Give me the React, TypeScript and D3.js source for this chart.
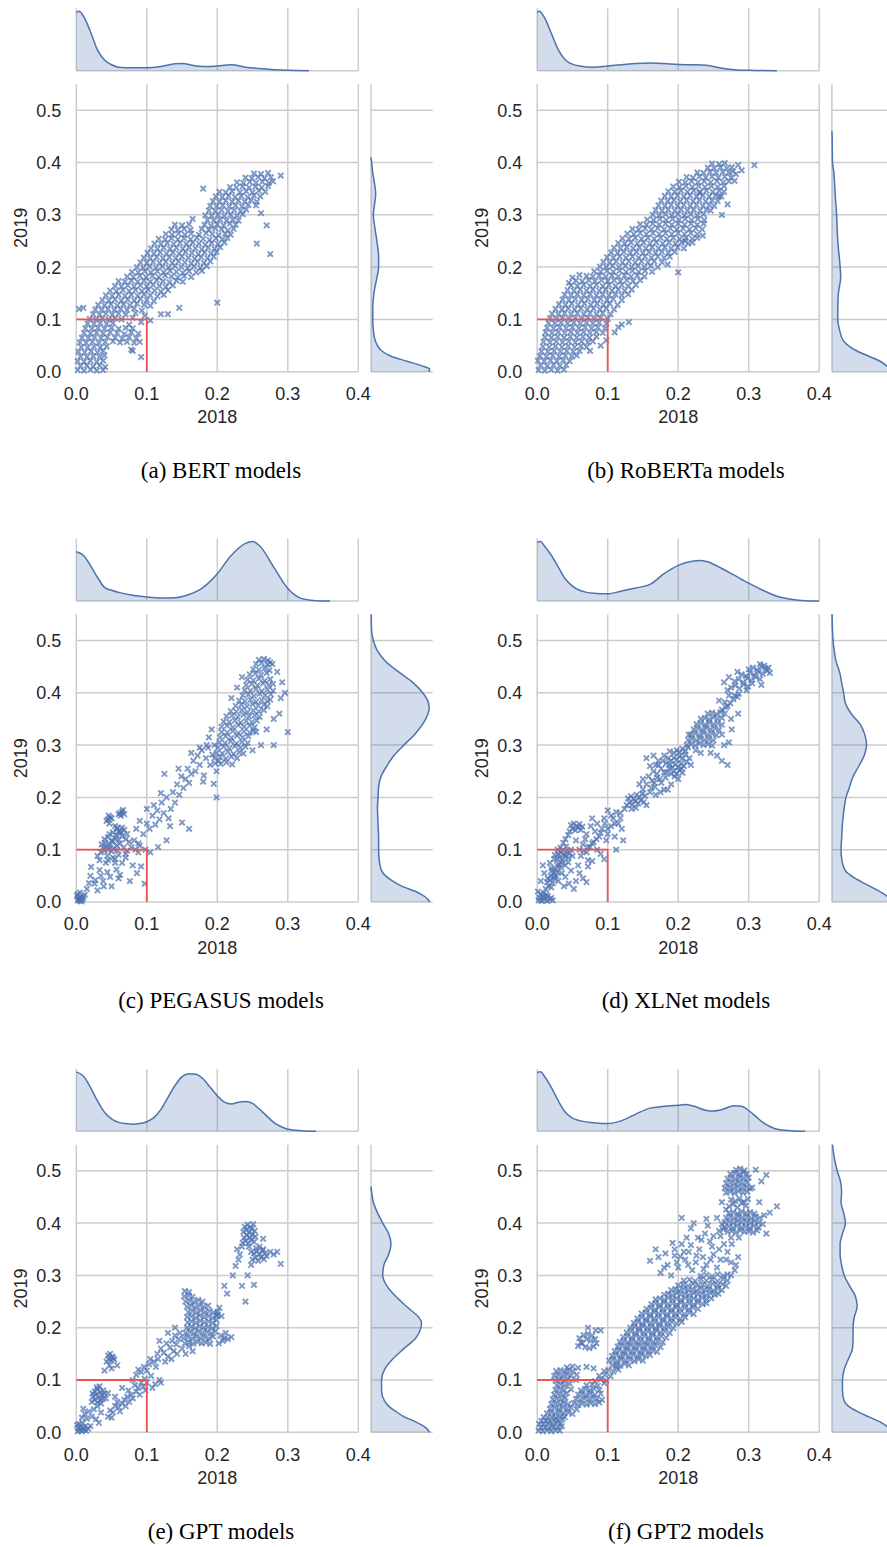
import React from 'react';
import * as d3 from 'd3';

// ---------- shared axis settings ----------
const xTicks = [0, 0.1, 0.2, 0.3, 0.4];
const yTicks = [0, 0.1, 0.2, 0.3, 0.4, 0.5];
const xLabel = '2018';
const yLabel = '2019';
const captions = [
  '(a) BERT models',
  '(b) RoBERTa models',
  '(c) PEGASUS models',
  '(d) XLNet models',
  '(e) GPT models',
  '(f) GPT2 models',
];

// ---------- scatter data: (2018, 2019) pairs, in thousandths ----------
const bertPoints = [
  2,3, 11,2, 20,4, 29,2, 38,3,
  6,11, 15,12, 24,10, 33,12, 41,9,
  2,20, 11,19, 20,21, 29,19, 38,21,
  6,29, 15,28, 24,30, 33,28, 40,31,
  3,38, 12,37, 21,39, 30,37, 38,40,
  7,47, 16,46, 25,48, 34,46, 43,48,
  5,56, 14,55, 23,57, 32,55, 41,57, 52,58, 62,56, 72,57, 82,55, 90,57,
  8,65, 17,64, 26,66, 35,64, 44,66, 55,65, 65,63, 75,66, 85,64,
  11,74, 20,73, 29,75, 38,73, 48,75, 58,74, 68,72, 78,75, 88,73,
  13,83, 22,82, 31,84, 40,82, 50,84, 60,82, 70,84, 80,83,
  16,92, 25,91, 34,93, 43,91, 52,93, 75,90, 92,95,
  19,101, 28,100, 37,102, 46,100, 55,102, 64,100, 80,103,
  24,110, 33,109, 42,111, 51,109, 60,111, 70,109, 84,112, 97,107,
  27,119, 36,118, 45,120, 54,118, 63,120, 72,118, 82,121, 93,117,
  31,128, 40,127, 49,129, 58,127, 67,129, 76,127, 86,130, 96,128, 105,126,
  37,137, 46,136, 55,138, 64,136, 73,138, 82,136, 91,139, 100,137, 110,135,
  42,146, 51,145, 60,147, 69,145, 78,147, 87,145, 96,148, 105,146, 115,144, 124,147,
  48,155, 57,154, 66,156, 75,154, 84,156, 93,154, 102,157, 111,155, 120,153, 130,156,
  55,164, 64,163, 73,165, 82,163, 91,165, 100,163, 109,166, 118,164, 127,162, 137,165,
  60,173, 69,172, 78,174, 87,172, 96,174, 105,172, 114,175, 123,173, 132,171, 142,174, 151,172,
  72,182, 81,181, 90,183, 99,181, 108,183, 117,181, 126,184, 135,182, 144,180, 153,183, 163,181,
  79,191, 88,190, 97,192, 106,190, 115,192, 124,190, 133,193, 142,191, 151,189, 160,192, 170,190, 178,193,
  86,200, 95,199, 104,201, 113,199, 122,201, 131,199, 140,202, 149,200, 158,198, 167,201, 176,199, 185,202,
  91,209, 100,208, 109,210, 118,208, 127,210, 136,208, 145,211, 154,209, 163,207, 172,210, 181,208, 190,211,
  96,218, 105,217, 114,219, 123,217, 132,219, 141,217, 150,220, 159,218, 168,216, 177,219, 186,217, 195,220,
  101,227, 110,226, 119,228, 128,226, 137,228, 146,226, 155,229, 164,227, 173,225, 182,228, 191,226, 199,229,
  106,236, 115,235, 124,237, 133,235, 142,237, 151,235, 160,238, 169,236, 178,234, 187,237, 196,235, 204,238,
  111,245, 120,244, 129,246, 138,244, 147,246, 156,244, 165,247, 174,245, 183,243, 192,246, 201,244, 210,247,
  117,254, 126,253, 135,255, 144,253, 153,255, 162,253, 171,256, 180,254, 189,252, 198,255, 207,253, 214,256,
  127,263, 136,262, 145,264, 154,262, 163,264, 174,262, 184,265, 193,263, 202,261, 211,264, 219,262,
  135,272, 144,271, 153,273, 162,271, 178,273, 188,271, 197,274, 206,272, 215,270, 223,273,
  140,281, 150,280, 160,282, 182,281, 191,279, 200,282, 209,280, 218,283, 226,281,
  165,292, 186,290, 195,289, 204,291, 213,289, 222,291, 230,289,
  183,299, 192,298, 201,300, 210,298, 219,300, 228,298, 236,301,
  188,308, 197,307, 206,309, 215,307, 224,309, 233,307, 241,310,
  190,317, 199,316, 208,318, 217,316, 226,318, 235,316, 244,319,
  194,326, 203,325, 212,327, 221,325, 230,327, 239,325, 248,328, 256,325,
  198,335, 207,334, 216,336, 225,334, 234,336, 243,334, 252,337, 261,335,
  203,344, 212,343, 221,345, 232,343, 241,345, 250,343, 259,346, 268,344,
  218,353, 227,352, 236,354, 245,352, 254,354, 263,352, 272,355,
  228,362, 237,361, 246,363, 255,361, 264,363, 273,361, 279,364,
  240,371, 249,370, 258,372, 267,370, 276,372,
  252,379, 262,378, 272,380,
  290,375, 275,225, 256,245, 262,303, 270,280, 200,132, 146,122, 130,110, 4,120, 10,122,
  80,40, 78,42, 92,28, 180,350, 255,318, 105,98, 120,110,
];

const robertaPoints = [
  2,3, 11,2, 20,4, 29,2, 38,4,
  5,12, 14,11, 23,13, 32,11, 41,13,
  1,21, 10,20, 19,22, 28,20, 37,22, 46,20,
  4,30, 13,29, 22,31, 31,29, 40,31, 49,29, 56,31,
  6,39, 15,38, 24,40, 33,38, 42,40, 51,38, 60,40,
  8,48, 17,47, 26,49, 35,47, 44,49, 53,47, 62,49, 70,47,
  9,57, 18,56, 27,58, 36,56, 45,58, 54,56, 63,58, 72,56, 79,58,
  11,66, 20,65, 29,67, 38,65, 47,67, 56,65, 65,67, 74,65, 84,67,
  12,75, 21,74, 30,76, 39,74, 48,76, 57,74, 66,76, 75,74, 84,76, 93,74,
  14,84, 23,83, 32,85, 41,83, 50,85, 59,83, 68,85, 77,83, 86,85, 96,83,
  16,93, 25,92, 34,94, 43,92, 52,94, 61,92, 70,94, 79,92, 88,94, 98,92,
  18,102, 27,101, 36,103, 45,101, 54,103, 63,101, 72,103, 81,101, 90,103, 100,101,
  21,111, 30,110, 39,112, 48,110, 57,112, 66,110, 75,112, 84,110, 93,112, 104,110,
  26,120, 35,119, 44,121, 53,119, 62,121, 71,119, 80,121, 89,119, 98,121, 109,119,
  31,129, 40,128, 49,130, 58,128, 67,130, 76,128, 85,130, 94,128, 103,130, 114,128,
  36,138, 45,137, 54,139, 63,137, 72,139, 81,137, 90,139, 99,137, 108,139, 120,137,
  39,147, 48,146, 57,148, 66,146, 75,148, 84,146, 93,148, 102,146, 111,148, 120,146, 129,148,
  43,156, 52,155, 61,157, 70,155, 79,157, 88,155, 97,157, 106,155, 115,157, 124,155, 134,157,
  48,165, 57,164, 66,166, 75,164, 84,166, 93,164, 102,166, 111,164, 120,166, 129,164, 140,166,
  55,174, 64,173, 73,175, 82,173, 91,175, 100,173, 109,175, 118,173, 127,175, 136,173, 146,175,
  70,183, 79,182, 88,184, 97,182, 106,184, 115,182, 124,184, 133,182, 142,184, 152,182,
  81,192, 90,191, 99,193, 108,191, 117,193, 126,191, 135,193, 144,191, 153,193, 163,191,
  89,201, 98,200, 107,202, 116,200, 125,202, 134,200, 143,202, 152,200, 161,202, 171,200,
  94,210, 103,209, 112,211, 121,209, 130,211, 139,209, 148,211, 157,209, 166,211, 177,209,
  99,219, 108,218, 117,220, 126,218, 135,220, 144,218, 153,220, 162,218, 171,220, 180,218, 188,220,
  105,228, 114,227, 123,229, 132,227, 141,229, 150,227, 159,229, 168,227, 177,229, 186,227, 195,229,
  109,237, 118,236, 127,238, 136,236, 145,238, 154,236, 163,238, 172,236, 181,238, 190,236, 199,238, 208,236,
  115,246, 124,245, 133,247, 142,245, 151,247, 160,245, 169,247, 178,245, 187,247, 196,245, 205,247, 214,245, 220,247,
  121,255, 130,254, 139,256, 148,254, 157,256, 166,254, 175,256, 184,254, 193,256, 202,254, 211,256, 220,254, 227,256,
  128,264, 137,263, 146,265, 155,263, 164,265, 173,263, 182,265, 191,263, 200,265, 209,263, 218,265, 227,263,
  135,273, 144,272, 153,274, 162,272, 171,274, 180,272, 189,274, 198,272, 207,274, 216,272, 225,274, 234,272,
  146,282, 155,281, 164,283, 173,281, 182,283, 191,281, 200,283, 209,281, 218,283, 227,281, 236,283,
  156,291, 165,290, 174,292, 183,290, 192,292, 201,290, 210,292, 219,290, 228,292, 237,290,
  164,300, 173,299, 182,301, 191,299, 200,301, 209,299, 218,301, 227,299, 236,301,
  168,309, 177,308, 186,310, 195,308, 204,310, 213,308, 222,310, 231,308, 240,310, 246,308,
  172,318, 181,317, 190,319, 199,317, 208,319, 217,317, 226,319, 235,317, 244,319, 251,317,
  176,327, 185,326, 194,328, 203,326, 212,328, 221,326, 230,328, 239,326, 248,328, 256,326,
  181,336, 190,335, 199,337, 208,335, 217,337, 226,335, 235,337, 244,335, 253,337, 261,335,
  186,345, 195,344, 204,346, 213,344, 222,346, 231,344, 240,346, 249,344, 258,346, 265,344,
  193,354, 202,353, 211,355, 220,353, 229,355, 238,353, 247,355, 256,353, 265,355,
  201,363, 210,362, 219,364, 228,362, 237,364, 246,362, 255,364, 264,362, 272,364,
  212,372, 221,371, 230,373, 239,371, 248,373, 257,371, 266,373, 275,371,
  227,381, 236,380, 245,382, 254,380, 263,382, 272,380, 278,383,
  242,390, 251,389, 260,391, 269,389, 276,391,
  248,398, 258,397, 266,399,
  308,395, 282,378, 270,320, 262,300, 200,190, 185,205, 50,180, 45,170, 60,185, 110,75,
  115,85, 120,90, 98,60, 90,50, 75,40, 130,95, 210,250, 235,260, 258,335, 280,365,
  290,385, 285,395, 230,342,
];

const pegasusPoints = [
  2,3, 5,2, 8,4, 3,7, 6,9, 9,6, 1,12, 4,5, 7,1, 2,15, 10,10, 12,14, 5,18,
  15,25, 21,67, 26,35, 27,42, 38,40, 39,30, 50,30, 33,61, 44,57, 57,62, 48,48, 62,52,
  20,50, 30,22, 18,36, 35,50, 60,45, 76,40, 65,75, 80,70, 86,55, 92,68, 97,35, 55,75,
  45,80, 70,85, 88,95, 98,100,
  35,95, 40,98, 45,100, 50,97, 38,103, 43,106, 48,104, 53,102, 58,99, 36,110, 41,113,
  47,110, 52,115, 57,108, 62,112, 67,104, 72,98, 78,105, 84,100, 90,108, 40,120, 45,124,
  50,118, 55,122, 60,119, 65,126, 70,120, 75,115, 82,118, 88,112, 47,130, 52,133, 57,128,
  62,136, 58,140, 63,132, 68,138, 72,130, 55,145, 60,135, 65,142, 44,88, 52,85, 60,90,
  70,92, 30,88, 33,80, 42,75, 55,82,
  45,158, 48,162, 46,165, 50,160, 43,155, 47,150, 62,170, 65,173, 60,168, 66,176, 63,165,
  68,168, 58,142,
  95,130, 100,150, 104,140, 108,165, 112,148, 115,175, 118,158, 121,190, 124,170, 128,200,
  131,160, 134,178, 137,210, 140,190, 143,225, 146,205, 149,240, 152,218, 155,235, 158,255,
  160,228, 163,245, 166,270, 169,250, 172,280, 175,262, 178,290, 181,242, 184,275, 187,295,
  190,262, 193,282, 196,300, 199,250, 202,270, 128,118, 116,105, 133,145, 110,185, 125,245,
  145,255, 163,285, 175,295, 180,230, 195,226, 199,200, 150,152, 160,140, 105,95, 100,178,
  90,155, 85,140, 120,208,
  197,265, 205,264, 213,267, 221,263,
  196,275, 204,277, 212,274, 220,278, 228,275,
  199,285, 207,284, 215,287, 223,283, 231,286, 237,284,
  201,295, 209,297, 217,294, 225,298, 233,295, 240,297,
  203,305, 211,304, 219,307, 227,303, 235,306, 243,304,
  204,315, 212,317, 220,314, 228,318, 236,315, 244,317,
  206,325, 214,324, 222,327, 230,323, 238,326, 246,324, 251,327,
  206,335, 214,337, 222,334, 230,338, 238,335, 246,337, 253,334,
  209,345, 217,344, 225,347, 233,343, 241,346, 249,344, 256,347,
  213,355, 221,357, 229,354, 237,358, 245,355, 253,357, 260,354,
  219,365, 227,364, 235,367, 243,363, 251,366, 259,364, 266,367,
  226,375, 234,377, 242,374, 250,378, 258,375, 266,377, 271,374,
  231,385, 239,384, 247,387, 255,383, 263,386, 271,384, 275,387,
  236,395, 244,397, 252,394, 260,398, 268,395, 276,397,
  239,405, 247,404, 255,407, 263,403, 271,406, 279,404,
  241,415, 249,417, 257,414, 265,418, 273,415, 279,417,
  243,425, 251,424, 259,427, 267,423, 275,426,
  246,435, 254,437, 262,434, 270,438,
  251,445, 259,444, 267,447, 274,443,
  255,455, 263,457, 271,454, 275,458,
  259,463, 266,465, 272,462,
  300,325, 290,390, 285,440, 296,400, 280,350, 270,330, 288,360, 262,300, 250,290, 280,300,
  255,325, 192,330, 188,315, 185,300, 220,390, 228,410, 235,430, 278,455, 292,420,
];

const xlnetPoints = [
  2,3, 6,2, 10,4, 14,2, 18,5, 3,8, 7,10, 11,9, 15,11, 20,8, 5,15, 9,17, 13,14, 22,3, 1,20,
  12,25, 16,30, 20,28, 14,38, 18,42, 22,36, 25,45, 19,50, 23,55, 27,50, 30,40, 26,62, 29,58,
  33,66, 31,72, 20,65, 35,55, 40,48, 38,30, 45,35, 52,25, 55,40, 48,60, 60,55, 65,45, 70,38,
  58,70, 72,68, 8,70, 10,55, 5,40,
  15,45, 24,48, 21,60, 28,70, 35,75, 40,70, 44,76, 24,82, 18,75,
  28,82, 32,85, 36,80, 40,88, 44,84, 30,92, 34,95, 38,90, 42,97, 46,93, 29,100, 33,104,
  37,99, 41,106, 25,90, 48,100, 50,88,
  46,135, 50,140, 54,137, 58,142, 62,138, 48,147, 52,150, 56,145, 60,149, 64,144, 44,128,
  40,120, 37,113,
  60,100, 65,110, 70,95, 75,105, 68,120, 80,115, 85,100, 90,92, 72,80, 78,78, 95,82, 88,125,
  82,135, 92,140, 98,118, 70,130, 100,130, 105,145, 110,125, 108,160, 115,150, 95,160,
  120,140, 118,170, 100,175, 85,150, 76,145, 78,160, 122,118, 112,100, 55,118,
  105,165, 112,172, 118,160, 124,178, 110,150, 100,140, 96,150, 90,132, 84,120, 78,112,
  72,105, 66,98, 62,88,
  127,185, 131,190, 135,186, 139,193, 143,188, 147,195, 151,191, 129,198, 133,202, 137,197,
  141,205, 145,200, 149,207, 153,203, 134,178, 140,180, 155,185,
  150,215, 155,225, 160,210, 158,240, 163,232, 167,220, 165,250, 170,245, 174,235, 172,262,
  176,255, 180,248, 178,270, 183,265, 187,255, 160,260, 150,235, 145,225, 168,205, 175,210,
  190,225, 195,240, 185,215, 200,235, 205,255, 155,275, 165,280, 188,288, 180,215,
  162,218, 166,228, 170,238, 176,228, 182,238, 184,248, 188,262, 168,262, 172,270, 180,280, 186,275,
  190,245, 194,250, 198,245, 202,252, 206,247, 192,258, 196,263, 200,258, 204,265, 208,260,
  212,268, 190,270, 194,276, 198,272, 202,279, 206,274, 210,282, 194,285, 198,290, 202,286,
  206,293, 210,288, 214,296, 216,275, 218,262,
  212,300, 218,302, 224,299, 230,303, 236,300, 242,302, 248,299,
  214,310, 220,312, 226,309, 232,313, 238,310, 244,312, 250,309,
  218,320, 224,322, 230,319, 236,323, 242,320, 248,322, 254,319,
  222,330, 228,332, 234,329, 240,333, 246,330, 252,332, 258,329,
  226,340, 232,342, 238,339, 244,343, 250,340, 256,342, 262,339,
  232,350, 238,352, 244,349, 250,353, 256,350, 262,352,
  242,360, 248,362, 254,359, 260,363, 266,360,
  270,375, 258,385, 275,350, 272,305, 232,285, 225,290, 265,300, 262,320, 246,285, 280,395,
  285,360, 276,330, 262,270, 255,280, 215,320, 270,262,
  262,368, 268,372, 274,380, 278,388, 266,382, 284,392, 272,395,
  275,410, 281,414, 287,408, 293,416, 299,412, 305,418, 280,422, 286,426, 292,420, 298,428,
  304,424, 310,430, 316,426, 290,435, 296,432, 302,438, 308,434, 314,440, 320,436, 326,442,
  300,445, 306,448, 312,444, 318,450, 324,446, 316,455, 322,452, 328,448, 270,405, 286,398,
  297,405, 265,420, 272,430, 284,440, 318,415, 330,438,
];

const gptPoints = [
  2,2, 5,4, 8,2, 11,5, 14,3, 3,8, 7,10, 10,8, 13,12, 1,14, 4,16, 17,7, 9,18, 20,12,
  8,28, 12,35, 15,26, 18,40, 22,30, 25,44, 10,45, 28,25, 32,18, 30,50, 35,38,
  22,58, 26,62, 30,57, 34,61, 38,64, 24,68, 28,72, 32,67, 36,71, 40,74, 26,78, 30,82,
  34,77, 38,80, 29,86, 33,88, 23,74, 35,55,
  45,30, 50,28, 48,42, 55,50, 52,38, 60,48, 58,58, 65,55, 62,40, 68,62, 72,68, 70,50,
  75,58, 78,72, 80,65, 85,78, 83,90, 88,85, 90,72, 92,95, 95,88, 98,80, 97,102, 100,95,
  42,65, 45,75, 55,68, 65,85, 74,80,
  43,135, 46,140, 49,137, 52,142, 45,147, 48,150, 51,145, 54,139, 47,128, 50,122, 58,128, 40,118,
  80,100, 85,110, 88,120, 92,115, 96,125, 100,118, 103,130, 106,108, 110,135, 113,125,
  116,140, 118,100, 120,95, 108,85, 112,92, 105,140,
  115,150, 120,160, 124,152, 128,170, 130,145, 133,162, 136,175, 138,155, 140,185, 142,168,
  145,178, 147,190, 126,135, 135,140, 118,175, 130,190, 143,150, 150,160, 155,150, 160,165,
  165,155, 140,200,
  154,170, 160,172, 166,169, 172,173, 178,170, 184,172, 190,169,
  152,180, 158,182, 164,179, 170,183, 176,180, 182,182, 188,179, 194,183,
  155,190, 161,192, 167,189, 173,193, 179,190, 185,192, 191,189, 197,193,
  157,200, 163,202, 169,199, 175,203, 181,200, 187,202, 193,199, 199,203,
  158,210, 164,212, 170,209, 176,213, 182,210, 188,212, 194,209,
  157,220, 163,222, 169,219, 175,223, 181,220, 187,222, 193,219, 199,223,
  159,230, 165,232, 171,229, 177,233, 183,230, 189,232, 195,229,
  157,240, 163,242, 169,239, 175,243, 181,240, 187,242,
  155,250, 161,252, 167,249, 173,253, 179,250,
  153,260, 159,262, 165,259,
  154,270, 160,268,
  200,230, 203,238, 201,225, 199,215, 206,222,
  205,185, 210,180, 212,190, 208,175, 215,178, 220,182, 202,170,
  222,300, 235,280, 240,250, 248,320, 226,318, 230,330, 243,300, 252,282, 214,265, 210,280,
  236,362, 240,366, 244,361, 248,368, 252,364, 238,372, 242,377, 246,372, 250,378, 254,374,
  237,383, 241,387, 245,382, 249,389, 253,385, 239,393, 243,397, 247,392, 251,398, 235,355, 245,355,
  250,330, 254,334, 258,328, 262,335, 266,331, 270,337, 252,342, 256,346, 260,340, 264,347,
  268,342, 255,352, 260,355, 265,350, 248,345,
  285,345, 290,322, 265,370, 275,345, 280,340, 232,340, 228,350,
];

const gpt2Points = [
  2,3, 8,2, 14,4, 20,2, 26,4, 32,3, 5,9, 11,10, 17,8, 23,11, 29,9, 35,12, 3,16, 9,15, 15,17,
  21,14, 27,18, 33,16, 6,22, 12,23, 18,21, 24,24, 30,22, 36,25, 9,29, 15,28, 21,30, 27,27,
  33,31, 39,29,
  14,36, 20,38, 26,35, 32,39, 38,36, 44,38, 50,35,
  18,45, 24,47, 30,44, 36,48, 42,45, 48,47, 56,44,
  20,54, 26,56, 32,53, 38,57, 44,54, 52,56, 58,52, 64,55, 70,53, 76,56, 82,54, 88,57,
  22,63, 28,65, 34,62, 40,66, 55,64, 61,62, 67,65, 73,63, 79,66, 85,64, 92,62,
  24,72, 30,74, 36,71, 42,75, 58,72, 64,74, 70,71, 76,75, 82,72, 90,74,
  26,81, 32,83, 38,80, 48,82, 62,80, 68,83, 74,80, 80,84, 88,81,
  28,90, 34,92, 40,89, 46,93, 70,90, 78,92, 86,89, 95,94,
  26,99, 32,101, 38,98, 44,102, 55,100, 82,98, 90,101, 98,99,
  24,108, 30,110, 36,107, 42,111, 48,108, 56,110, 88,108, 96,110, 104,107,
  27,117, 33,119, 39,116, 45,120, 51,117, 95,117, 101,119, 108,116, 115,120,
  42,124, 50,126, 58,123, 70,125, 80,122, 112,125,
  58,165, 62,172, 60,180, 66,186, 72,188, 78,185, 82,178, 84,170, 80,164, 74,161, 68,163,
  64,170, 70,178, 76,175, 83,195, 72,200, 90,195,
  106,128, 112,130, 118,127, 124,131, 130,128,
  102,137, 108,139, 114,136, 120,140, 126,137, 132,139, 138,136, 144,140, 150,137,
  106,146, 112,148, 118,145, 124,149, 130,146, 136,148, 142,145, 148,149, 154,146, 160,148,
  110,155, 116,157, 122,154, 128,158, 134,155, 140,157, 146,154, 152,158, 158,155, 164,157, 170,154,
  114,164, 120,166, 126,163, 132,167, 138,164, 144,166, 150,163, 156,167, 162,164, 168,166, 175,163,
  117,173, 123,175, 129,172, 135,176, 141,173, 147,175, 153,172, 159,176, 165,173, 171,175, 178,172,
  122,182, 128,184, 134,181, 140,185, 146,182, 152,184, 158,181, 164,185, 170,182, 176,184, 183,181,
  127,191, 133,193, 139,190, 145,194, 151,191, 157,193, 163,190, 169,194, 175,191, 181,193, 188,190,
  132,200, 138,202, 144,199, 150,203, 156,200, 162,202, 168,199, 174,203, 180,200, 186,202, 193,199,
  137,209, 143,211, 149,208, 155,212, 161,209, 167,211, 173,208, 179,212, 185,209, 191,211, 198,208, 205,211,
  142,218, 148,220, 154,217, 160,221, 166,218, 172,220, 178,217, 184,221, 190,218, 196,220, 203,217, 210,220,
  148,227, 154,229, 160,226, 166,230, 172,227, 178,229, 184,226, 190,230, 196,227, 202,229, 209,226, 216,229, 222,226,
  155,236, 161,238, 167,235, 173,239, 179,236, 185,238, 191,235, 197,239, 203,236, 209,238, 215,235, 221,239, 228,236,
  162,245, 168,247, 174,244, 180,248, 186,245, 192,247, 198,244, 204,248, 210,245, 216,247, 222,244, 228,248, 235,245, 240,247,
  168,254, 174,256, 180,253, 186,257, 192,254, 198,256, 204,253, 210,257, 216,254, 222,256, 228,253, 234,257, 240,254, 247,256,
  180,263, 186,265, 192,262, 198,266, 204,263, 210,265, 216,262, 222,266, 228,263, 234,265, 240,262, 246,266, 252,263, 257,265,
  190,272, 196,274, 202,271, 208,275, 214,272, 220,274, 226,271, 232,275, 238,272, 244,274, 250,271, 256,275, 262,272,
  200,281, 207,283, 214,280, 221,284, 228,281, 235,283, 242,280, 249,284, 256,281, 263,283, 268,280,
  208,290, 216,292, 224,289, 232,293, 240,290, 248,292, 256,289, 264,293, 270,290,
  232,299, 240,301, 248,298, 256,302, 264,299, 270,302,
  175,305, 185,320, 195,338, 200,315, 210,330, 215,345, 205,360, 220,310, 225,325, 230,350,
  235,335, 240,320, 245,365, 250,340, 255,315, 260,330, 265,360, 270,345, 275,325, 280,310,
  285,335, 250,375, 238,380, 228,372, 218,390, 242,395, 258,385, 262,398, 182,342, 192,362,
  172,335, 168,350, 160,328, 212,372, 205,410,
  190,300, 198,325, 208,345, 218,358, 226,338, 236,312, 246,330, 258,350, 268,330, 276,360,
  286,372, 248,355, 233,368, 222,400, 240,408, 255,410, 264,388, 214,320, 203,336, 195,350,
  180,315, 275,300, 282,320,
  270,383, 276,385, 282,382, 288,386, 294,383, 300,385, 306,382, 312,386,
  266,392, 272,394, 278,391, 284,395, 290,392, 296,394, 302,391, 308,395, 314,392,
  266,401, 272,403, 278,400, 284,404, 290,401, 296,403, 302,400, 308,404, 314,401,
  268,410, 274,412, 280,409, 286,413, 292,410, 298,412, 304,409, 310,413, 316,410,
  272,419, 278,421, 284,418, 290,422, 296,419, 302,421, 308,418,
  320,398, 322,415, 325,380, 260,375, 275,372,
  272,432, 278,436, 284,430, 290,438, 296,433, 275,445, 281,442, 287,447, 293,441, 299,446,
  262,440, 268,426,
  268,458, 274,460, 280,457, 286,461, 292,458, 298,460,
  266,467, 272,469, 278,466, 284,470, 290,467, 296,469, 302,466,
  268,476, 274,478, 280,475, 286,479, 292,476, 298,478,
  270,485, 276,487, 282,484, 288,488, 294,485, 300,487,
  274,494, 280,496, 286,493, 292,497, 297,494,
  282,502, 288,504, 294,501,
  340,432, 325,492, 310,502, 330,420, 318,480, 305,468, 315,440,
];

// ---------- marginal densities: [position, density relative to the peak] ----------
const bertTop = [[0,.98],[.004,1],[.01,.92],[.02,.66],[.03,.35],[.04,.18],[.05,.10],[.06,.06],[.08,.05],[.10,.05],[.12,.07],[.14,.115],[.15,.12],[.17,.08],[.19,.07],[.21,.09],[.22,.10],[.24,.06],[.26,.035],[.28,.017],[.30,.006],[.33,0]];
const bertRight = [[0,.98],[.005,1],[.01,.9],[.02,.61],[.03,.33],[.04,.18],[.05,.11],[.06,.07],[.08,.04],[.10,.03],[.12,.03],[.15,.05],[.18,.10],[.20,.13],[.22,.13],[.25,.10],[.28,.06],[.30,.04],[.32,.06],[.34,.08],[.36,.06],[.38,.03],[.40,.01],[.41,0]];

const robertaTop = [[0,.98],[.003,1],[.01,.9],[.02,.63],[.03,.35],[.04,.18],[.05,.11],[.06,.08],[.08,.06],[.10,.08],[.12,.10],[.14,.12],[.16,.13],[.18,.12],[.20,.105],[.22,.10],[.24,.09],[.26,.045],[.28,.017],[.30,.006],[.34,0]];
const robertaRight = [[0,1],[.01,.94],[.02,.82],[.03,.62],[.04,.42],[.05,.28],[.06,.19],[.08,.13],[.10,.10],[.12,.10],[.15,.11],[.18,.15],[.20,.14],[.25,.10],[.30,.08],[.35,.05],[.38,.035],[.40,.01],[.45,.004],[.46,0]];

const pegasusTop = [[0,.83],[.01,.77],[.02,.60],[.03,.40],[.04,.23],[.05,.18],[.06,.145],[.08,.095],[.10,.067],[.12,.05],[.14,.056],[.16,.11],[.18,.23],[.20,.46],[.22,.77],[.24,.97],[.25,1],[.26,.93],[.28,.57],[.30,.21],[.32,.04],[.34,.005],[.36,0]];
const pegasusRight = [[0,1],[.01,.92],[.02,.76],[.03,.53],[.04,.37],[.05,.25],[.06,.18],[.08,.14],[.10,.13],[.12,.13],[.15,.12],[.18,.11],[.20,.12],[.22,.13],[.24,.17],[.26,.27],[.28,.39],[.30,.56],[.32,.74],[.34,.88],[.36,.97],[.37,.99],[.38,.98],[.40,.88],[.42,.71],[.44,.47],[.46,.25],[.48,.11],[.50,.04],[.52,.01],[.55,.004]];

const xlnetTop = [[0,.99],[.005,1],[.01,.93],[.02,.77],[.03,.57],[.04,.37],[.05,.25],[.06,.18],[.07,.145],[.08,.13],[.10,.12],[.12,.17],[.14,.22],[.16,.28],[.18,.46],[.20,.60],[.22,.67],[.23,.68],[.24,.665],[.26,.56],[.28,.43],[.30,.30],[.32,.18],[.34,.08],[.36,.03],[.38,.005],[.40,0]];
const xlnetRight = [[0,1],[.01,.95],[.02,.82],[.03,.65],[.04,.48],[.05,.33],[.06,.23],[.08,.17],[.10,.155],[.12,.165],[.15,.18],[.18,.21],[.20,.24],[.22,.30],[.24,.36],[.26,.46],[.28,.55],[.30,.59],[.32,.56],[.34,.48],[.36,.33],[.38,.23],[.40,.20],[.42,.165],[.44,.13],[.46,.07],[.48,.04],[.50,.02],[.52,.01],[.55,.003]];

const gptTop = [[0,1],[.01,.93],[.02,.74],[.03,.51],[.04,.32],[.05,.21],[.06,.15],[.07,.13],[.08,.12],[.09,.13],[.10,.16],[.11,.23],[.12,.37],[.13,.57],[.14,.77],[.15,.92],[.16,.97],[.17,.96],[.18,.88],[.19,.74],[.20,.60],[.21,.49],[.22,.46],[.23,.49],[.24,.50],[.25,.47],[.26,.37],[.27,.26],[.28,.15],[.29,.08],[.30,.034],[.32,.01],[.34,0]];
const gptRight = [[0,1],[.01,.92],[.02,.76],[.03,.56],[.04,.42],[.05,.30],[.06,.23],[.08,.18],[.10,.18],[.12,.23],[.14,.37],[.16,.56],[.18,.76],[.20,.85],[.21,.86],[.22,.81],[.24,.61],[.26,.42],[.28,.27],[.30,.20],[.32,.22],[.34,.30],[.36,.34],[.38,.30],[.40,.20],[.42,.11],[.44,.04],[.46,.01],[.47,0]];

const gpt2Top = [[0,.99],[.005,1],[.01,.93],[.02,.74],[.03,.51],[.04,.32],[.05,.22],[.06,.18],[.08,.145],[.10,.13],[.12,.18],[.14,.29],[.16,.39],[.18,.42],[.20,.44],[.21,.45],[.22,.43],[.24,.35],[.25,.34],[.26,.36],[.28,.43],[.29,.42],[.30,.35],[.31,.25],[.32,.15],[.33,.08],[.34,.034],[.36,.01],[.38,0]];
const gpt2Right = [[0,1],[.01,.95],[.02,.82],[.03,.62],[.04,.43],[.05,.28],[.06,.21],[.08,.18],[.10,.18],[.12,.21],[.14,.28],[.16,.35],[.18,.36],[.20,.36],[.22,.38],[.24,.43],[.26,.40],[.28,.30],[.30,.21],[.32,.165],[.34,.14],[.36,.14],[.38,.18],[.40,.23],[.42,.20],[.44,.155],[.46,.165],[.48,.145],[.50,.09],[.52,.05],[.54,.02],[.55,.01]];

// ---------- layout ----------
const WIDTH = 887;
const HEIGHT = 1547;
const PLOT_LEFT = 76.3;
const COL_STEP = 460.9;
const PLOT_BOTTOM = 371.7;
const ROW_STEP = 530.3;
const PLOT_W = 282;
const PX_PER_Y = 523;
const MARG_TOP = 8.3;
const MARG_BOTTOM = 70.7;
const RIGHT_GAP = 294.7;
const RIGHT_W = 61.7;
const CAPTION_X = [221, 686];
const CAPTION_Y = 478;

const BLUE = '#4c72b0';
const GRID = '#cccccc';
const TEXT = '#262626';
const SANS = '"Liberation Sans", Arial, Helvetica, sans-serif';
const SERIF = '"Liberation Serif", "Times New Roman", Times, serif';

type Pair = [number, number];

function toPairs(flat: number[]): Pair[] {
  const out: Pair[] = [];
  for (let i = 0; i + 1 < flat.length; i += 2) out.push([flat[i] / 1000, flat[i + 1] / 1000]);
  return out;
}

const panels = [
  { caption: captions[0], points: bertPoints, top: bertTop, right: bertRight },
  { caption: captions[1], points: robertaPoints, top: robertaTop, right: robertaRight },
  { caption: captions[2], points: pegasusPoints, top: pegasusTop, right: pegasusRight },
  { caption: captions[3], points: xlnetPoints, top: xlnetTop, right: xlnetRight },
  { caption: captions[4], points: gptPoints, top: gptTop, right: gptRight },
  { caption: captions[5], points: gpt2Points, top: gpt2Top, right: gpt2Right },
];

function JointPanel({ index, caption, points, top, right }: {
  index: number; caption: string; points: number[]; top: number[][]; right: number[][];
}) {
  const col = index % 2;
  const row = Math.floor(index / 2);
  const left = PLOT_LEFT + col * COL_STEP;
  const bottom = PLOT_BOTTOM + row * ROW_STEP;

  const x = d3.scaleLinear().domain([0, 0.4]).range([left, left + PLOT_W]);
  const y = d3.scaleLinear().domain([0, 0.55]).range([bottom, bottom - 0.55 * PX_PER_Y]);
  const plotTop = y(0.55);

  const mTop = MARG_TOP + row * ROW_STEP;
  const mBottom = MARG_BOTTOM + row * ROW_STEP;
  const densTop = d3.scaleLinear().domain([0, 1.05]).range([mBottom, mTop]);
  const spineX = left + RIGHT_GAP;
  const densRight = d3.scaleLinear().domain([0, 1.05]).range([spineX, spineX + RIGHT_W]);

  const topData = top as Pair[];
  const rightData = right as Pair[];

  const topArea = d3.area<Pair>().x((d) => x(d[0])).y0(mBottom).y1((d) => densTop(d[1])).curve(d3.curveMonotoneX)(topData) || '';
  const topLine = d3.line<Pair>().x((d) => x(d[0])).y((d) => densTop(d[1])).curve(d3.curveMonotoneX)(topData) || '';
  const rightArea = d3.area<Pair>().y((d) => y(d[0])).x0(spineX).x1((d) => densRight(d[1])).curve(d3.curveMonotoneY)(rightData) || '';
  const rightLine = d3.line<Pair>().y((d) => y(d[0])).x((d) => densRight(d[1])).curve(d3.curveMonotoneY)(rightData) || '';

  const pts = toPairs(points);
  const s = 2.7;
  const fmt = d3.format('.1f');
  const gw = 1.5;

  return (
    <g>
      {/* top marginal axes */}
      {xTicks.map((t) => (
        <line key={`tg${t}`} x1={x(t)} x2={x(t)} y1={mTop} y2={mBottom} stroke={GRID} strokeWidth={gw} />
      ))}
      <line x1={x(0)} x2={x(0.4)} y1={mBottom} y2={mBottom} stroke={GRID} strokeWidth={gw} />
      <path d={topArea} fill={BLUE} fillOpacity={0.25} stroke="none" />
      <path d={topLine} fill="none" stroke={BLUE} strokeWidth={1.5} />

      {/* right marginal axes */}
      {yTicks.map((t) => (
        <line key={`rg${t}`} x1={spineX} x2={spineX + RIGHT_W} y1={y(t)} y2={y(t)} stroke={GRID} strokeWidth={gw} />
      ))}
      <line x1={spineX} x2={spineX} y1={plotTop} y2={bottom} stroke={GRID} strokeWidth={gw} />
      <path d={rightArea} fill={BLUE} fillOpacity={0.25} stroke="none" />
      <path d={rightLine} fill="none" stroke={BLUE} strokeWidth={1.5} />

      {/* joint axes grid */}
      {xTicks.map((t) => (
        <line key={`xg${t}`} x1={x(t)} x2={x(t)} y1={plotTop} y2={bottom} stroke={GRID} strokeWidth={gw} />
      ))}
      {yTicks.map((t) => (
        <line key={`yg${t}`} x1={x(0)} x2={x(0.4)} y1={y(t)} y2={y(t)} stroke={GRID} strokeWidth={gw} />
      ))}

      {/* scatter markers */}
      <g stroke={BLUE} strokeOpacity={0.72} strokeWidth={1.9} fill="none">
        {pts.map((p, i) => {
          const px = x(p[0]);
          const py = y(p[1]);
          return (
            <path key={i} d={`M${px - s},${py - s}L${px + s},${py + s}M${px - s},${py + s}L${px + s},${py - s}`} />
          );
        })}
      </g>

      {/* reference box at 0.1 */}
      <path
        d={`M${x(0)},${y(0.1)}L${x(0.1)},${y(0.1)}L${x(0.1)},${y(0)}`}
        fill="none"
        stroke="#f05252"
        strokeWidth={1.8}
      />

      {/* tick labels */}
      {xTicks.map((t) => (
        <text key={`xt${t}`} x={x(t)} y={bottom + 28.3} textAnchor="middle" fontFamily={SANS} fontSize={18} fill={TEXT}>
          {fmt(t)}
        </text>
      ))}
      {yTicks.map((t) => (
        <text key={`yt${t}`} x={left - 15} y={y(t)} dy="0.36em" textAnchor="end" fontFamily={SANS} fontSize={18} fill={TEXT}>
          {fmt(t)}
        </text>
      ))}
      <text x={x(0.2)} y={bottom + 51.6} textAnchor="middle" fontFamily={SANS} fontSize={18} fill={TEXT}>
        {xLabel}
      </text>
      <text
        transform={`translate(${left - 49.6},${(plotTop + bottom) / 2}) rotate(-90)`}
        textAnchor="middle"
        fontFamily={SANS}
        fontSize={18}
        fill={TEXT}
      >
        {yLabel}
      </text>

      {/* subfigure caption */}
      <text x={CAPTION_X[col]} y={CAPTION_Y + row * ROW_STEP} textAnchor="middle" fontFamily={SERIF} fontSize={23} fill="#000">
        {caption}
      </text>
    </g>
  );
}

export default function App() {
  return (
    <svg
      width={WIDTH}
      height={HEIGHT}
      viewBox={`0 0 ${WIDTH} ${HEIGHT}`}
      style={{ position: 'absolute', left: 0, top: 0, background: '#fff' }}
    >
      <rect x={0} y={0} width={WIDTH} height={HEIGHT} fill="#fff" />
      {panels.map((p, i) => (
        <JointPanel key={i} index={i} caption={p.caption} points={p.points} top={p.top} right={p.right} />
      ))}
    </svg>
  );
}
